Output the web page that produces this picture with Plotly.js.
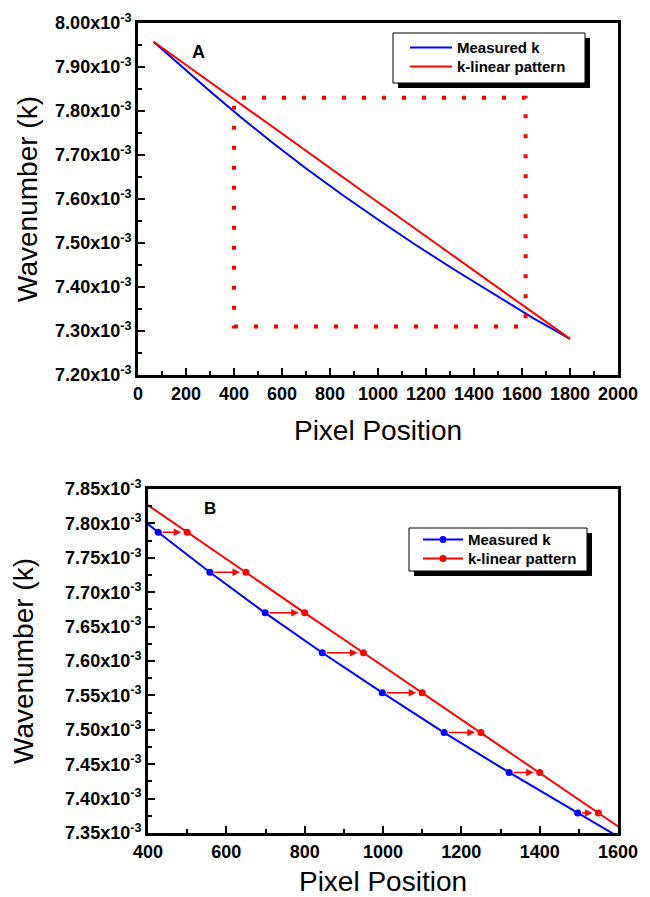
<!DOCTYPE html>
<html>
<head>
<meta charset="utf-8">
<script src="https://cdn.plot.ly/plotly-3.0.1.min.js"></script>
<style>html,body{margin:0;padding:0;background:#fff;}#chart{width:650px;height:897px;}</style>
</head>
<body>
<div id="chart"></div>
<script>
// ---- data (wavenumber in units of 1e-3) ----
var measuredX = [65, 200, 300, 426, 558, 699, 845, 998, 1156, 1322, 1497, 1650, 1800];
var measuredK = [7.9575, 7.892, 7.845, 7.787, 7.729, 7.670, 7.612, 7.554, 7.496, 7.438, 7.379, 7.328, 7.282];
var linearX = [65, 500, 650, 800, 950, 1100, 1250, 1400, 1550, 1800];
var linearK = [7.9575, 7.787, 7.729, 7.670, 7.612, 7.554, 7.496, 7.438, 7.379, 7.282];
// arrows in panel B: from measured point to linear-pattern point
var arrowFromX = [426, 558, 699, 845, 998, 1156, 1322, 1497];
var arrowToX = [500, 650, 800, 950, 1100, 1250, 1400, 1550];
var arrowK = [7.787, 7.729, 7.670, 7.612, 7.554, 7.496, 7.438, 7.379];
// zoom box drawn in panel A
var zoomBoxX = [400, 1615];
var zoomBoxK = [7.31, 7.83];
// tick labels
var tickA = [7.20, 7.30, 7.40, 7.50, 7.60, 7.70, 7.80, 7.90, 8.00];
var tickB = [7.35, 7.40, 7.45, 7.50, 7.55, 7.60, 7.65, 7.70, 7.75, 7.80, 7.85];
var seriesNames = ['Measured k', 'k-linear pattern'];
var panelLabels = ['A', 'B'];

function sc(a){ return a.map(function(v){ return v*1e-3; }); }
function lbl(a){ return a.map(function(v){ return v.toFixed(2) + 'x10<sup>-3</sup>'; }); }

var BLUE = '#0000ff', RED = '#ff0000';
var COLORS = [BLUE, RED];
var FONT = '"Liberation Sans", Arial, sans-serif';

var traces = [
  {x: measuredX, y: sc(measuredK), name: seriesNames[0], mode: 'lines', line: {color: BLUE, width: 2}, xaxis: 'x', yaxis: 'y'},
  {x: linearX, y: sc(linearK), name: seriesNames[1], mode: 'lines', line: {color: RED, width: 2}, xaxis: 'x', yaxis: 'y'},
  {x: measuredX, y: sc(measuredK), name: seriesNames[0], mode: 'lines+markers', line: {color: BLUE, width: 2}, marker: {color: BLUE, size: 7}, xaxis: 'x2', yaxis: 'y2'},
  {x: linearX, y: sc(linearK), name: seriesNames[1], mode: 'lines+markers', line: {color: RED, width: 2}, marker: {color: RED, size: 7}, xaxis: 'x2', yaxis: 'y2'}
];

var tickFont = {family: FONT, size: 18, color: '#000', weight: 'bold'};
var titleFont = {family: FONT, size: 28, color: '#000'};

function xax(domain, range, anchor, dtick, standoff){
  return {domain: domain, range: range, anchor: anchor, showline: true, mirror: true, linewidth: 3, linecolor: '#000',
    showgrid: false, zeroline: false, ticks: 'inside', ticklen: 7, tickwidth: 2, tickcolor: '#000', dtick: dtick, tick0: 0,
    minor: {ticks: 'inside', ticklen: 4, tickwidth: 2, tickcolor: '#000', dtick: dtick/2},
    tickfont: tickFont, title: {text: 'Pixel Position', font: titleFont, standoff: standoff}, automargin: false};
}
function yax(domain, range, anchor, vals, minorD, standoff){
  return {domain: domain, range: range, anchor: anchor, showline: true, mirror: true, linewidth: 3, linecolor: '#000',
    showgrid: false, zeroline: false, ticks: 'inside', ticklen: 7, tickwidth: 2, tickcolor: '#000',
    tickmode: 'array', tickvals: sc(vals), ticktext: lbl(vals),
    minor: {ticks: 'inside', ticklen: 4, tickwidth: 2, tickcolor: '#000', dtick: minorD, tick0: 0},
    tickfont: tickFont, title: {text: 'Wavenumber (k)', font: titleFont, standoff: standoff}, automargin: false};
}

var W = 650, H = 897;
function px(x){ return x / W; }
function py(y){ return 1 - y / H; }

var annotations = [
  {xref: 'paper', yref: 'paper', x: px(190), y: py(40), text: '<b>' + panelLabels[0] + '</b>', showarrow: false, font: {family: FONT, size: 18, color: '#000'}},
  {xref: 'paper', yref: 'paper', x: px(202), y: py(508), text: '<b>' + panelLabels[1] + '</b>', showarrow: false, font: {family: FONT, size: 17, color: '#000'}}
];
for (var i = 0; i < arrowToX.length; i++) {
  annotations.push({xref: 'x2', yref: 'y2', axref: 'x2', ayref: 'y2', x: arrowToX[i], y: arrowK[i]*1e-3,
    ax: arrowFromX[i], ay: arrowK[i]*1e-3, text: '', showarrow: true, arrowhead: 2, arrowsize: 1,
    arrowwidth: 1.5, arrowcolor: RED, standoff: 6, startstandoff: 3});
}

var shapes = [
  {type: 'rect', xref: 'x', yref: 'y', x0: zoomBoxX[0], x1: zoomBoxX[1], y0: zoomBoxK[0]*1e-3, y1: zoomBoxK[1]*1e-3,
    line: {color: RED, width: 4, dash: '4px,16px'}, fillcolor: 'rgba(0,0,0,0)'},
  // legend boxes with shadows
  {type: 'rect', xref: 'paper', yref: 'paper', x0: px(398), x1: px(590), y0: py(88), y1: py(38), fillcolor: '#000', line: {width: 0}},
  {type: 'rect', xref: 'paper', yref: 'paper', x0: px(393), x1: px(585), y0: py(83), y1: py(33), fillcolor: '#fff', line: {color: '#000', width: 1}},
  {type: 'rect', xref: 'paper', yref: 'paper', x0: px(414), x1: px(592), y0: py(576), y1: py(533), fillcolor: '#000', line: {width: 0}},
  {type: 'rect', xref: 'paper', yref: 'paper', x0: px(409), x1: px(587), y0: py(571), y1: py(528), fillcolor: '#fff', line: {color: '#000', width: 1}}
];

// custom legends
var legFont = {family: FONT, size: 15, color: '#000', weight: 'bold'};
var legA = {x0: 410, x1: 452, tx: 455, rows: [47.5, 66.5], markers: false};
var legB = {x0: 423, x1: 463, tx: 466, rows: [539.5, 558.5], markers: true};
[legA, legB].forEach(function(L){
  for (var j = 0; j < seriesNames.length; j++) {
    var yy = L.rows[j];
    shapes.push({type: 'line', xref: 'paper', yref: 'paper', x0: px(L.x0), x1: px(L.x1), y0: py(yy), y1: py(yy), line: {color: COLORS[j], width: 2}});
    if (L.markers) {
      shapes.push({type: 'circle', xref: 'paper', yref: 'paper', xsizemode: 'pixel', ysizemode: 'pixel',
        xanchor: px((L.x0 + L.x1) / 2), yanchor: py(yy), x0: -3.5, x1: 3.5, y0: -3.5, y1: 3.5,
        fillcolor: COLORS[j], line: {color: COLORS[j], width: 0}});
    }
    annotations.push({xref: 'paper', yref: 'paper', x: px(L.tx), y: py(yy), xanchor: 'left', yanchor: 'middle',
      text: seriesNames[j], showarrow: false, font: legFont});
  }
});

var layout = {
  width: W, height: H, margin: {l: 0, r: 0, t: 0, b: 0},
  paper_bgcolor: '#fff', plot_bgcolor: 'rgba(0,0,0,0)',
  xaxis: xax([px(138), px(618)], [0, 2000], 'y', 200, 18),
  yaxis: yax([py(375), py(23)], [7.2e-3, 8.0e-3], 'x', tickA, 0.05e-3, 10),
  xaxis2: xax([px(148), px(618)], [400, 1600], 'y2', 200, 18),
  yaxis2: yax([py(833), py(489)], [7.35e-3, 7.85e-3], 'x2', tickB, 0.025e-3, 24),
  showlegend: false,
  annotations: annotations,
  shapes: shapes
};

Plotly.newPlot('chart', traces, layout, {displayModeBar: false, staticPlot: true});
</script>
</body>
</html>
